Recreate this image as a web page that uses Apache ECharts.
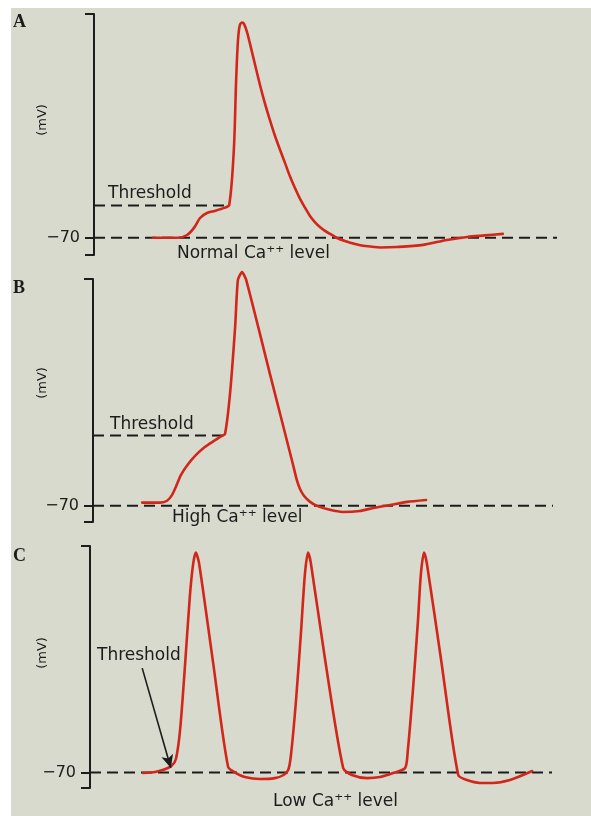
<!DOCTYPE html>
<html>
<head>
<meta charset="utf-8">
<script src="https://cdn.jsdelivr.net/npm/echarts@6/dist/echarts.min.js"></script>
<style>
  html, body { margin: 0; padding: 0; background: #ffffff; }
  #paper { position: absolute; left: 11px; top: 8px; width: 580px; height: 808px; background: #d8dacd; }
  #chart { position: absolute; left: 0; top: 0; width: 591px; height: 816px; }
</style>
</head>
<body>
<div id="paper"></div>
<div id="chart"></div>
<script>
// Membrane potential traces (time in arbitrary ms units, potential in mV)
const restingPotential = -70;

// A: normal Ca++ level
const traceA = [
  [12.7, -70], [18.1, -70], [20.1, -68.7], [21.6, -65.4], [22.9, -60.8], [24.4, -58.5],
  [26.1, -57.5], [28.1, -56.1], [29.2, -54.8], [30.2, -29.2], [30.7, 3.3], [31.1, 21.9],
  [31.5, 28.9], [32.0, 30], [32.4, 29.4], [33.05, 25.6], [33.7, 20.1], [34.8, 10.3],
  [35.85, 1.0], [36.9, -7.4], [38.0, -15.3], [39.1, -22.7], [40.2, -29.2], [41.25, -35.2],
  [42.3, -41.3], [43.4, -46.9], [44.5, -51.9], [45.6, -56.1], [46.65, -59.9], [47.7, -62.7],
  [48.8, -65.0], [49.9, -66.8], [51.0, -68.2], [52.5, -70.1], [54.2, -71.5], [56.4, -72.9],
  [58.5, -73.8], [61.8, -74.5], [65.4, -74.3], [71.1, -73.3], [76.2, -71.0], [80.6, -69.6],
  [84.4, -68.9], [88.3, -68.2]
];
const thresholdA = -55;
const thresholdEndA = 28.9;

// B: high Ca++ level
const traceB = [
  [10.7, -68.7], [14.6, -68.7], [16.1, -67.9], [17.2, -65.4], [18.0, -62.0], [19.1, -56.9],
  [20.7, -52.2], [22.4, -48.3], [24.3, -44.9], [26.3, -42.3], [28.0, -40.2], [28.7, -39.3],
  [29.8, -21.8], [30.9, 6.5], [31.5, 26.6], [32.4, 30], [33.3, 26.6], [38.5, -13.9],
  [43.5, -52.6], [44.3, -59.0], [45.0, -62.9], [45.9, -65.9], [47.2, -68.4], [48.7, -70.1],
  [51.5, -71.8], [54.3, -72.7], [58.0, -72.3], [60.9, -71.0], [64.6, -69.7], [68.3, -68.4],
  [72.4, -67.6]
];
const thresholdB = -40;
const thresholdEndB = 28.5;

// C: low Ca++ level (repetitive firing)
const traceC = [
  [11.5, -70.2], [14.1, -69.7], [16.2, -68.5], [17.7, -66.8], [18.6, -63.8], [19.5, -50.6],
  [20.6, -20.2], [21.6, 9.8], [22.3, 24.4], [22.9, 30], [23.6, 25.3], [26.6, -19.3],
  [29.9, -67.5], [31.6, -70.2], [33.5, -72.0], [36.8, -72.9], [40.0, -72.5], [41.8, -71.2],
  [42.9, -68.8], [43.5, -62.0], [44.6, -37.0], [45.7, -5.2], [46.5, 19.8], [47.2, 30],
  [47.8, 25.3], [50.9, -18.8], [54.8, -67.9], [56.7, -71.1], [60.0, -72.5], [62.8, -72.0],
  [65.6, -70.2], [68.2, -67.9], [68.8, -59.7], [69.9, -32.5], [71.0, -0.6], [71.6, 19.8],
  [72.3, 30], [72.9, 25.3], [76.0, -18.8], [79.7, -71.1], [81.6, -73.4], [84.4, -74.7],
  [87.2, -74.7], [90.9, -73.4], [95.7, -69.3]
];
// arrow pointing at the threshold crossing in C
const thresholdArrowC = { from: [11.3, -22.5], to: [17.5, -67.9] };

// Potential range shown on each panel's vertical scale
const yRangeA = [-78, 34];
const yRangeB = [-77, 27];
const yRangeC = [-77, 33];
const timeRange = [0, 100];

const ink = '#1c1c1c';
const traceColor = '#d2261b';
const dashPattern = [11, 6];
const labelFont = '"DejaVu Sans", sans-serif';

const chart = echarts.init(document.getElementById('chart'), null, { renderer: 'canvas' });

function yAxisFor(idx, range) {
  return {
    type: 'value', gridIndex: idx, min: range[0], max: range[1],
    axisLine: { show: true, lineStyle: { color: ink, width: 2 } },
    axisTick: { show: true, inside: false, length: 9, lineStyle: { color: ink, width: 2 },
      customValues: [range[0], restingPotential, range[1]] },
    axisLabel: { show: true, customValues: [restingPotential], margin: 14,
      formatter: v => '\u2212' + Math.abs(v), color: ink, fontSize: 16, fontFamily: labelFont },
    splitLine: { show: false }
  };
}
function xAxisFor(idx) {
  return { type: 'value', gridIndex: idx, min: timeRange[0], max: timeRange[1], show: false };
}
function dashed(idx, data) {
  return {
    type: 'line', xAxisIndex: idx, yAxisIndex: idx, data: data, symbol: 'none', silent: true,
    lineStyle: { color: ink, width: 2, type: dashPattern }, z: 2
  };
}
function trace(idx, data, smooth) {
  return {
    type: 'line', xAxisIndex: idx, yAxisIndex: idx, data: data, symbol: 'none', silent: true,
    smooth: smooth, clip: false,
    lineStyle: { color: traceColor, width: 2.6, cap: 'round', join: 'round' }, z: 3
  };
}
function text(x, y, str, opts) {
  return {
    type: 'text', x: x, y: y, silent: true,
    style: Object.assign({ text: str, fill: ink, font: '17px ' + labelFont,
      textAlign: 'left', textVerticalAlign: 'middle' }, opts || {})
  };
}
function mvLabel(x, y) {
  return { type: 'text', x: x, y: y, rotation: Math.PI / 2, silent: true,
    style: { text: '(mV)', fill: ink, font: '13px ' + labelFont, textAlign: 'center', textVerticalAlign: 'middle' } };
}
function panelLetter(x, y, str) {
  return text(x, y, str, { font: 'bold 18px "Liberation Serif", serif' });
}

const option = {
  backgroundColor: 'transparent',
  animation: false,
  grid: [
    { left: 94, top: 14, width: 463, height: 241 },
    { left: 93, top: 279, width: 460, height: 243 },
    { left: 90, top: 546, width: 462, height: 242 }
  ],
  xAxis: [xAxisFor(0), xAxisFor(1), xAxisFor(2)],
  yAxis: [yAxisFor(0, yRangeA), yAxisFor(1, yRangeB), yAxisFor(2, yRangeC)],
  series: [
    dashed(0, [[timeRange[0], restingPotential], [timeRange[1], restingPotential]]),
    dashed(0, [[timeRange[0], thresholdA], [thresholdEndA, thresholdA]]),
    trace(0, traceA, 0.3),
    dashed(1, [[timeRange[0], restingPotential], [timeRange[1], restingPotential]]),
    dashed(1, [[timeRange[0], thresholdB], [thresholdEndB, thresholdB]]),
    trace(1, traceB, 0.2),
    dashed(2, [[timeRange[0], restingPotential], [timeRange[1], restingPotential]]),
    Object.assign(trace(2, traceC, 0.25), {
      markLine: {
        silent: true, symbol: ['none', 'arrow'], symbolSize: [9, 13],
        lineStyle: { color: ink, width: 1.6, type: 'solid' }, label: { show: false },
        data: [[{ coord: thresholdArrowC.from }, { coord: thresholdArrowC.to }]]
      }
    })
  ],
  graphic: [
    panelLetter(13, 22, 'A'),
    panelLetter(13, 288, 'B'),
    panelLetter(13, 556, 'C'),
    mvLabel(43, 120),
    mvLabel(43, 383),
    mvLabel(43, 653),
    text(108, 194, 'Threshold'),
    text(177, 254, 'Normal Ca\u207A\u207A level'),
    text(110, 425, 'Threshold'),
    text(172, 518, 'High Ca\u207A\u207A level'),
    text(97, 656, 'Threshold'),
    text(273, 802, 'Low Ca\u207A\u207A level')
  ]
};
chart.setOption(option);
</script>
</body>
</html>
